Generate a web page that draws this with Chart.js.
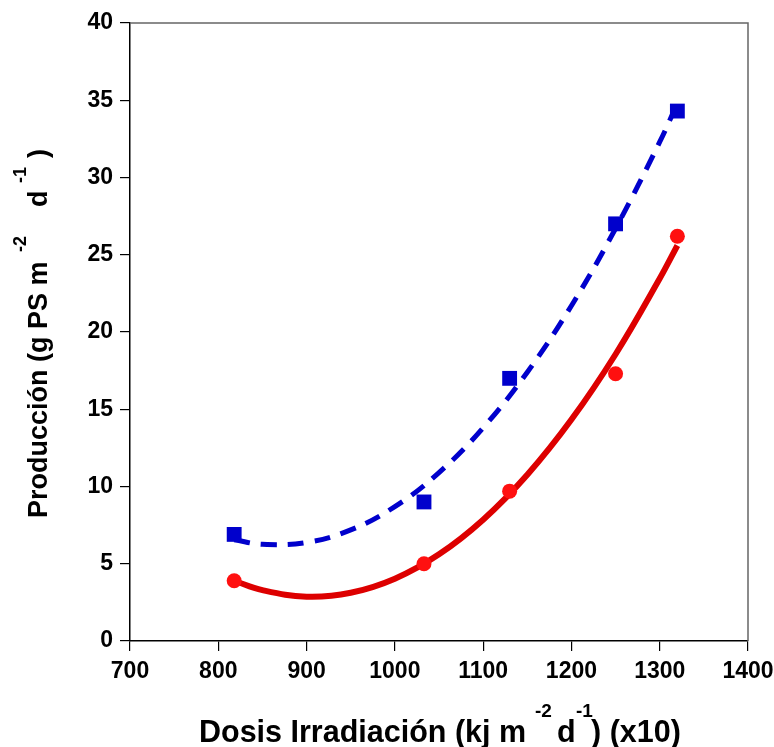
<!DOCTYPE html>
<html>
<head>
<meta charset="utf-8">
<script src="https://cdn.jsdelivr.net/npm/chart.js@4.4.1/dist/chart.umd.min.js"></script>
<style>
  html, body { margin: 0; padding: 0; background: #fff; }
  #chart { display: block; }
</style>
</head>
<body>
<canvas id="chart" width="774" height="747"></canvas>
<script>
// 観測点
const doseX = [818, 1033, 1130, 1250, 1320];
const blueY = [6.9, 9.0, 17.0, 27.0, 34.3];
const redY  = [3.9, 5.0, 9.7, 17.3, 26.2];

// 回帰曲線
const fitX     = [818, 850, 900, 950, 1000, 1050, 1100, 1150, 1200, 1250, 1300, 1320];
const blueFitY = [6.55, 6.26, 6.38, 7.19, 8.70, 10.9, 13.8, 17.4, 21.7, 26.7, 32.3, 34.8];
const redFitY  = [3.9, 3.29, 2.87, 3.12, 4.03, 5.61, 7.85, 10.76, 14.33, 18.56, 23.46, 25.6];

// 軸目盛り
const xTicks = [700, 800, 900, 1000, 1100, 1200, 1300, 1400];
const yTicks = [0, 5, 10, 15, 20, 25, 30, 35, 40];

const FONT = '"Liberation Sans", Arial, sans-serif';

const toPts = (xs, ys) => xs.map((x, i) => ({ x: x, y: ys[i] }));

// 上付き文字を含むタイトルを描く（at = 開始位置からのオフセット）
function drawRich(ctx, parts, size, supSize, rise) {
  ctx.fillStyle = '#000';
  ctx.textBaseline = 'alphabetic';
  ctx.textAlign = 'left';
  parts.forEach(p => {
    ctx.font = `bold ${p.sup ? supSize : size}px ${FONT}`;
    ctx.fillText(p.t, p.at, p.sup ? -rise : 0);
  });
}

// 上・右の枠線と軸タイトル
const framePlugin = {
  id: 'frame',
  afterDraw(chart) {
    const { ctx, chartArea: a } = chart;
    ctx.save();
    ctx.strokeStyle = '#666';
    ctx.lineWidth = 1.5;
    ctx.beginPath();
    ctx.moveTo(a.left, a.top);
    ctx.lineTo(a.right, a.top);
    ctx.lineTo(a.right, a.bottom);
    ctx.stroke();

    // x軸タイトル
    ctx.save();
    ctx.translate(199, 742);
    drawRich(ctx, [
      { t: 'Dosis Irradiación (kj m', at: 0 },
      { t: '-2', at: 336, sup: true },
      { t: 'd', at: 358 },
      { t: '-1', at: 377, sup: true },
      { t: ') (x10)', at: 392 }
    ], 30.5, 19, 25);
    ctx.restore();

    // y軸タイトル
    ctx.save();
    ctx.translate(47, 518);
    ctx.rotate(-Math.PI / 2);
    drawRich(ctx, [
      { t: 'Producción (g PS m', at: 0 },
      { t: '-2', at: 266, sup: true },
      { t: 'd', at: 311 },
      { t: '-1', at: 335, sup: true },
      { t: ')', at: 360 }
    ], 27, 18, 21);
    ctx.restore();
    ctx.restore();
  }
};

const ctx = document.getElementById('chart').getContext('2d');

const chart = new Chart(ctx, {
  type: 'scatter',
  data: {
    datasets: [
      {
        label: 'fit azul',
        data: toPts(fitX, blueFitY),
        showLine: true,
        borderColor: '#0000cc',
        borderWidth: 5,
        borderDash: [16, 11],
        tension: 0.4,
        pointRadius: 0,
        order: 3
      },
      {
        label: 'fit rojo',
        data: toPts(fitX, redFitY),
        showLine: true,
        borderColor: '#dd0000',
        borderWidth: 6,
        tension: 0.4,
        pointRadius: 0,
        order: 4
      },
      {
        label: 'azul',
        data: toPts(doseX, blueY),
        pointStyle: 'rect',
        pointRadius: 10.5,
        backgroundColor: '#0000cc',
        borderColor: '#0000cc',
        borderWidth: 0,
        order: 1
      },
      {
        label: 'rojo',
        data: toPts(doseX, redY),
        pointStyle: 'circle',
        pointRadius: 7.5,
        backgroundColor: '#ff1010',
        borderColor: '#ff1010',
        borderWidth: 0,
        order: 2
      }
    ]
  },
  options: {
    responsive: false,
    animation: false,
    layout: {
      padding: { top: 23, right: 26, left: 0, bottom: 0 }
    },
    plugins: {
      legend: { display: false },
      tooltip: { enabled: false },
      title: { display: false }
    },
    scales: {
      x: {
        type: 'linear',
        min: 700,
        max: 1400,
        afterFit: scale => {
          scale.height = 106;
          scale.paddingLeft = 0;
          scale.paddingRight = 0;
        },
        afterBuildTicks: scale => { scale.ticks = xTicks.map(v => ({ value: v })); },
        grid: {
          drawOnChartArea: false,
          drawTicks: true,
          tickLength: 10,
          color: '#000',
          lineWidth: 1.2
        },
        border: { display: true, color: '#000', width: 1.5 },
        ticks: {
          padding: 7,
          color: '#000',
          maxRotation: 0,
          font: { family: FONT, size: 23, weight: 'bold' },
          callback: v => String(v)
        }
      },
      y: {
        min: 0,
        max: 40,
        afterFit: scale => {
          scale.width = 130;
          scale.paddingTop = 0;
          scale.paddingBottom = 0;
        },
        afterBuildTicks: scale => { scale.ticks = yTicks.map(v => ({ value: v })); },
        grid: {
          drawOnChartArea: false,
          drawTicks: true,
          tickLength: 10,
          color: '#000',
          lineWidth: 1.2
        },
        border: { display: true, color: '#000', width: 1.5 },
        ticks: {
          padding: 7,
          color: '#000',
          font: { family: FONT, size: 23, weight: 'bold' },
          callback: v => String(v)
        }
      }
    }
  },
  plugins: [framePlugin]
});
</script>
</body>
</html>
